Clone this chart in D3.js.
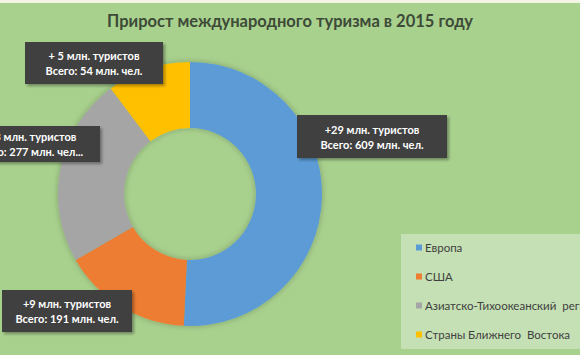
<!DOCTYPE html>
<html><head><meta charset="utf-8">
<script src="https://cdn.jsdelivr.net/npm/d3@7"></script>
<style>html,body{margin:0;padding:0;background:#fff;overflow:hidden}</style>
</head><body>
<script>
const title = "Прирост международного туризма в 2015 году";
const categories = ["Европа", "США", "Азиатско-Тихоокеанский  регион", "Страны Ближнего  Востока"];
// slice sizes
const sliceValues = [609, 191, 277, 123];
const labelLine1 = ["+29 млн. туристов", "+9 млн. туристов", "+13 млн. туристов", "+ 5 млн. туристов"];
const labelLine2 = ["Всего: 609 млн. чел.", "Всего: 191 млн. чел.", "Всего: 277 млн. чел...", "Всего: 54 млн. чел."];
const colors = ["#5b9bd5", "#ed7d31", "#a5a5a5", "#ffc000"];

const W = 580, H = 359;
const svg = d3.select("body").append("svg").attr("width", W).attr("height", H);
const defs = svg.append("defs");
const f = defs.append("filter").attr("id","sh").attr("x","-20%").attr("y","-20%").attr("width","140%").attr("height","140%");
f.append("feDropShadow").attr("dx",2).attr("dy",2).attr("stdDeviation",1.5).attr("flood-color","#000").attr("flood-opacity",0.35);
const g2 = defs.append("filter").attr("id","glow").attr("x","-20%").attr("y","-20%").attr("width","140%").attr("height","140%");
g2.append("feDropShadow").attr("dx",0).attr("dy",0).attr("stdDeviation",3).attr("flood-color","#000").attr("flood-opacity",0.25);

svg.append("rect").attr("x",0).attr("y",0).attr("width",W).attr("height",3).attr("fill","#f3f3e6");
svg.append("rect").attr("x",0).attr("y",3).attr("width",W).attr("height",352).attr("fill","#a9d18e");

svg.append("text").attr("x",290).attr("y",27).attr("text-anchor","middle")
  .attr("font-family","Lato, 'Open Sans', sans-serif").attr("font-weight","bold").attr("font-size",16.5)
  .attr("fill","#3d4a37").text(title);

const cx = 190, cy = 194, R = 132, r = 66;
const pie = d3.pie().sort(null).value(d => d)(sliceValues);
const arc = d3.arc().innerRadius(r).outerRadius(R);
const gp = svg.append("g").attr("transform",`translate(${cx},${cy})`).attr("filter","url(#glow)");
gp.selectAll("path").data(pie).join("path").attr("d",arc).attr("fill",(d,i)=>colors[i]);

// label boxes: [x, y, w, h] per category
const boxes = [[297,115,150,43],[2,290,130,42],[-42,126,142,36],[25,42,138,42]];
const lg = svg.append("g");
boxes.forEach((b,i)=>{
  const g = lg.append("g");
  g.append("rect").attr("x",b[0]).attr("y",b[1]).attr("width",b[2]).attr("height",b[3]).attr("fill","#404040").attr("filter","url(#sh)");
  const tx = b[0]+b[2]/2;
  const t = g.append("text").attr("text-anchor","middle").attr("font-family","Lato, 'Open Sans', sans-serif").attr("font-weight","bold").attr("font-size",11).attr("fill","#fff");
  const mid = b[1]+b[3]/2;
  t.append("tspan").attr("x",tx).attr("y",mid-3).text(labelLine1[i]);
  t.append("tspan").attr("x",tx).attr("y",mid+12).text(labelLine2[i]);
});

// legend
const leg = svg.append("g");
leg.append("rect").attr("x",401).attr("y",234).attr("width",185).attr("height",115).attr("fill","#c5e0b4");
const ly = d3.scalePoint().domain(categories).range([248,335]);
categories.forEach((c,i)=>{
  leg.append("rect").attr("x",416).attr("y",ly(c)-3.5).attr("width",6).attr("height",6).attr("fill",colors[i]);
  leg.append("text").attr("x",425).attr("y",ly(c)+4).attr("font-family","Lato, 'Open Sans', sans-serif").attr("font-size",11.5)
    .attr("fill","#404040").style("white-space","pre").text(c);
});
</script>
</body></html>
